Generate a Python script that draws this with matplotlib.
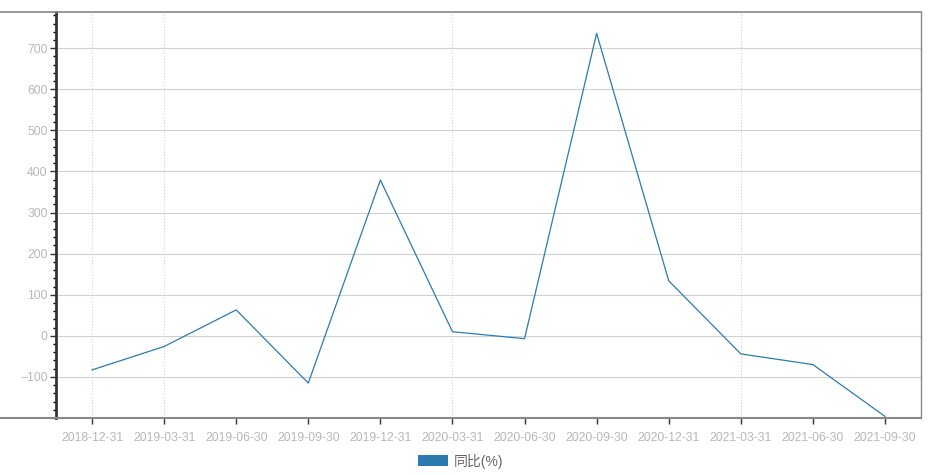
import matplotlib.pyplot as plt
import matplotlib
from matplotlib.ticker import MultipleLocator
from matplotlib.lines import Line2D
from matplotlib.patches import Patch

plt.rcParams['font.family'] = ['Liberation Sans', 'Noto Sans CJK SC', 'DejaVu Sans']

dates = ['2018-12-31', '2019-03-31', '2019-06-30', '2019-09-30', '2019-12-31',
         '2020-03-31', '2020-06-30', '2020-09-30', '2020-12-31', '2021-03-31',
         '2021-06-30', '2021-09-30']
yoy = [-83, -26, 63, -115, 379, 10, -7, 736, 134, -44, -70, -196]
vgrid_dates = ['2018-12-31', '2019-03-31', '2020-03-31', '2021-03-31']

line_color = '#2b7bb0'
label_color = '#b8b8b8'

fig = plt.figure(figsize=(9.34, 4.75), dpi=100)
ax = fig.add_axes([56 / 934, 1 - 418 / 475, 865 / 934, 406 / 475])

x = list(range(len(dates)))
ax.plot(x, yoy, color=line_color, linewidth=0.9, zorder=3)

ax.set_xlim(-0.5, 11.5)
ax.set_ylim(-200, 788)
ax.set_xticks(x)
ax.set_xticklabels(dates)
ax.yaxis.set_major_locator(MultipleLocator(100))
ax.yaxis.set_minor_locator(MultipleLocator(20))
ax.set_yticks(range(-100, 701, 100))

ax.grid(axis='y', color='#d0d0d0', linewidth=0.8)
for d in vgrid_dates:
    ax.axvline(dates.index(d), color='#c8c8c8', linestyle=(0, (1, 2)), linewidth=0.7, zorder=1)

ax.tick_params(axis='both', labelsize=8.8, labelcolor=label_color, color='#333333')
ax.tick_params(axis='y', which='major', length=4, width=1, pad=2)
ax.tick_params(axis='y', which='minor', length=2, width=1)
ax.tick_params(axis='x', length=4, width=1, pad=6)

ax.spines['left'].set_color('#333333')
ax.spines['left'].set_linewidth(2)
ax.spines['right'].set_color('#888888')
ax.spines['right'].set_linewidth(1)
ax.spines['top'].set_visible(False)
ax.spines['bottom'].set_visible(False)

# border lines that run to the figure's left edge
top = 1 - 12 / 475
bot = 1 - 418 / 475
right = 921 / 934
fig.add_artist(Line2D([0, right], [top, top], color='#888888', linewidth=1.2))
fig.add_artist(Line2D([0, right], [bot, bot], color='#888888', linewidth=1.5))

handle = Patch(facecolor=line_color, edgecolor='none')
fig.legend([handle], ['同比(%)'], loc='center', bbox_to_anchor=(0.493, 1 - 461 / 475),
           frameon=False, handlelength=2.2, handleheight=0.8, fontsize=10,
           labelcolor='#666666', handletextpad=0.4)

plt.savefig('out.png', dpi=100)
